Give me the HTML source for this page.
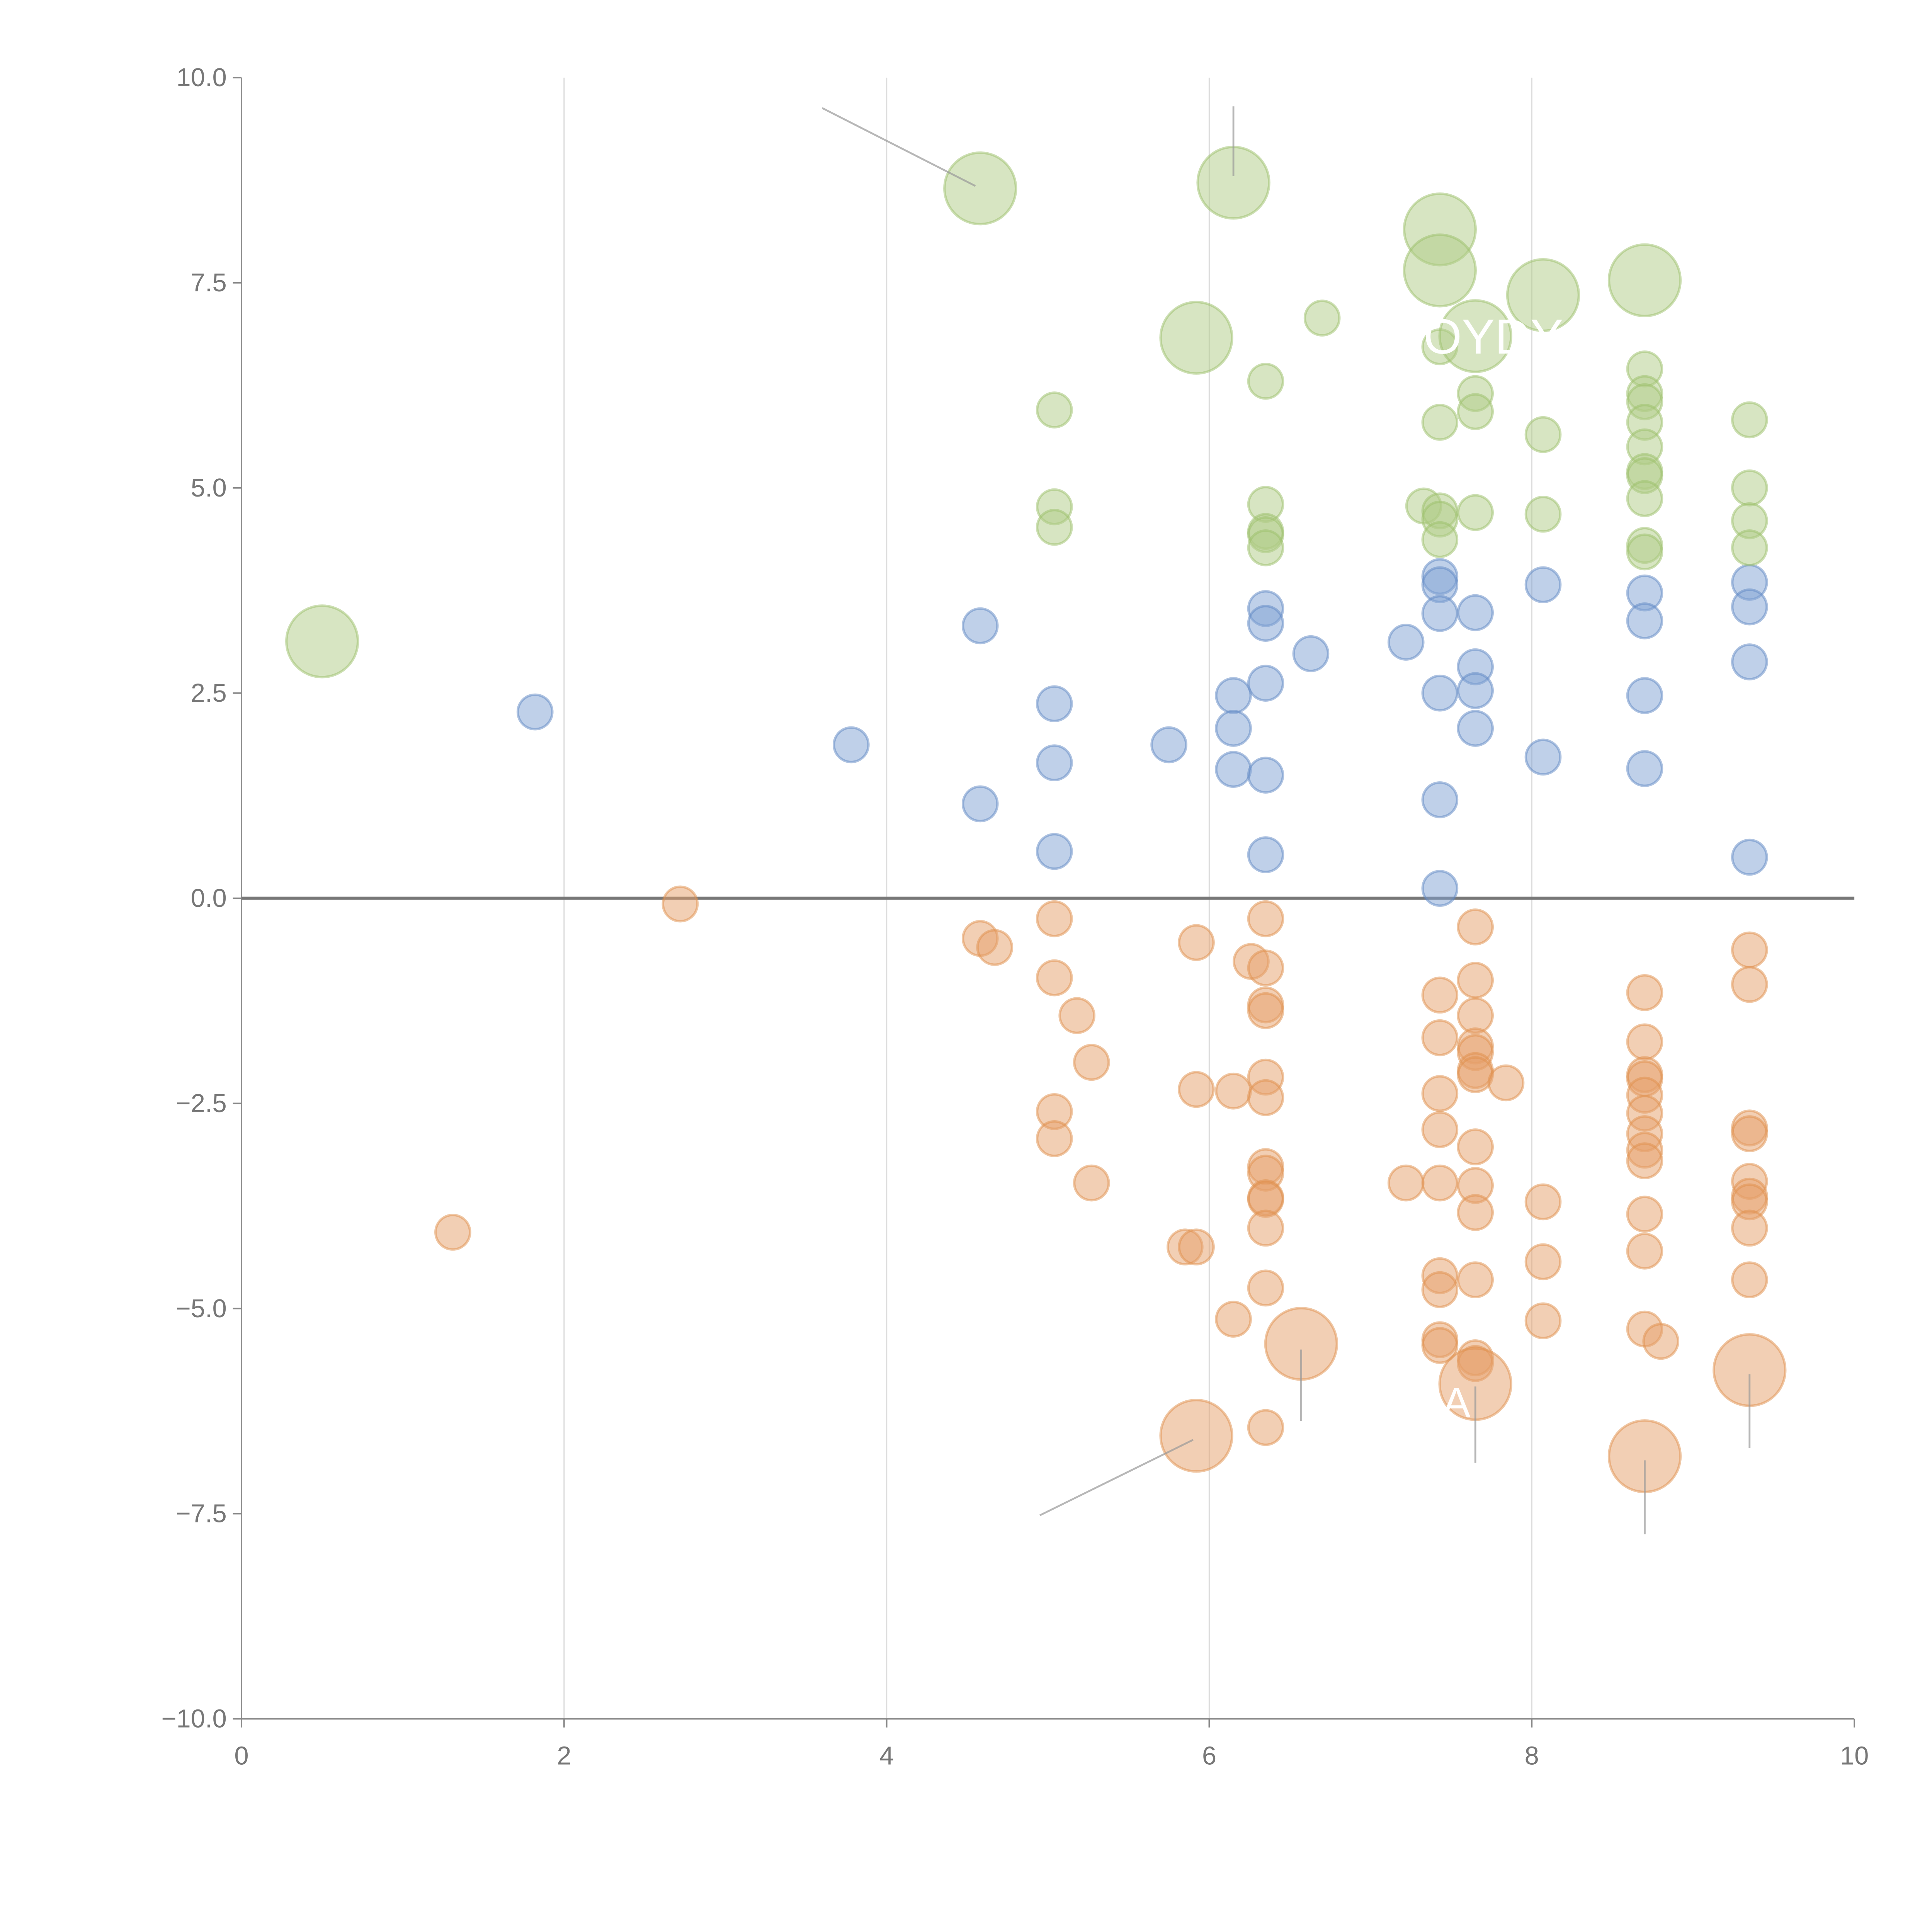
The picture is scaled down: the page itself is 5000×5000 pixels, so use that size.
<!DOCTYPE html>
<html><head><meta charset="utf-8"><style>
html,body{margin:0;padding:0;background:#fff;}
svg{display:block;}
</style></head><body>
<svg id="chart" width="5000" height="5000" viewBox="0 0 1568 1568" xmlns="http://www.w3.org/2000/svg" font-family="Liberation Sans, sans-serif"></svg>
<script>
const greenLarge=[[4.58,8.65],[6.15,8.72],[7.43,8.15],[7.43,7.65],[7.65,6.85],[8.07,7.35],[8.7,7.53],[5.92,6.83],[0.5,3.13]];
const greenSmall=[[6.7,7.07],[7.43,6.72],[6.35,6.3],[7.65,6.15],[7.65,5.93],[5.04,5.95],[7.43,5.8],[8.07,5.65],[8.7,6.45],[8.7,6.15],[8.7,6.05],[8.7,5.8],[8.7,5.5],[8.7,5.2],[8.7,5.15],[8.7,4.87],[8.7,4.3],[8.7,4.22],[9.35,5.83],[9.35,5.0],[9.35,4.6],[9.35,4.27],[5.04,4.77],[5.04,4.52],[6.35,4.8],[6.35,4.47],[6.35,4.43],[6.35,4.27],[7.33,4.78],[7.43,4.72],[7.43,4.62],[7.43,4.37],[7.65,4.7],[8.07,4.68]];
const blueSmall=[[1.82,2.27],[3.78,1.87],[4.58,3.32],[4.58,1.15],[5.04,2.37],[5.04,1.65],[5.04,0.57],[5.75,1.87],[6.15,2.47],[6.15,2.07],[6.15,1.57],[6.35,3.53],[6.35,3.35],[6.35,2.62],[6.35,1.5],[6.35,0.53],[6.63,2.98],[7.22,3.12],[7.43,3.92],[7.43,3.82],[7.43,3.47],[7.43,2.5],[7.43,1.2],[7.43,0.12],[7.65,3.48],[7.65,2.82],[7.65,2.53],[7.65,2.07],[8.07,3.82],[8.07,1.72],[8.7,3.72],[8.7,3.38],[8.7,2.47],[8.7,1.58],[9.35,3.85],[9.35,3.55],[9.35,2.88],[9.35,0.5]];
const orangeSmall=[[2.72,-0.07],[1.31,-4.07],[4.58,-0.49],[4.67,-0.6],[5.04,-0.25],[5.04,-0.97],[5.18,-1.43],[5.27,-2.0],[5.04,-2.6],[5.04,-2.93],[5.27,-3.47],[5.92,-0.54],[5.92,-2.33],[5.85,-4.25],[5.92,-4.25],[6.15,-2.35],[6.15,-5.13],[6.26,-0.77],[6.35,-0.25],[6.35,-0.85],[6.35,-1.3],[6.35,-1.37],[6.35,-2.18],[6.35,-2.43],[6.35,-3.27],[6.35,-3.35],[6.35,-3.65],[6.35,-3.67],[6.35,-4.02],[6.35,-4.75],[6.35,-6.45],[7.22,-3.47],[7.43,-1.18],[7.43,-1.7],[7.43,-2.38],[7.43,-2.82],[7.43,-3.47],[7.43,-4.6],[7.43,-4.77],[7.43,-5.38],[7.43,-5.45],[7.65,-0.35],[7.65,-1.0],[7.65,-1.43],[7.65,-1.8],[7.65,-1.88],[7.65,-2.1],[7.65,-2.15],[7.65,-3.03],[7.65,-3.5],[7.65,-3.83],[7.65,-4.65],[7.65,-5.6],[7.65,-5.67],[7.84,-2.25],[8.07,-3.7],[8.07,-4.43],[8.07,-5.15],[8.7,-1.15],[8.7,-1.75],[8.7,-2.15],[8.7,-2.2],[8.7,-2.4],[8.7,-2.62],[8.7,-2.87],[8.7,-3.07],[8.7,-3.2],[8.7,-3.85],[8.7,-4.3],[8.7,-5.25],[8.8,-5.4],[9.35,-0.63],[9.35,-1.05],[9.35,-2.8],[9.35,-2.87],[9.35,-3.45],[9.35,-3.63],[9.35,-3.7],[9.35,-4.02],[9.35,-4.65]];
const orangeLarge=[[6.57,-5.43],[5.92,-6.55],[7.65,-5.92],[8.7,-6.8],[9.35,-5.75]];
const leaders=[[3.6,9.63,4.55,8.68],[6.15,9.65,6.15,8.8],[4.95,-7.52,5.9,-6.6],[6.57,-5.5,6.57,-6.37],[7.65,-5.95,7.65,-6.88],[8.7,-6.85,8.7,-7.75],[9.35,-5.8,9.35,-6.7]];
const xTicks=[0,2,4,6,8,10];
const yTicks=[-10,-7.5,-5,-2.5,0,2.5,5,7.5,10];

const NS="http://www.w3.org/2000/svg";
const svg=document.getElementById('chart');
const X=v=>196+v*130.9;
const Y=v=>729-v*66.6;
function mk(tag,attrs,parent){const e=document.createElementNS(NS,tag);for(const k in attrs)e.setAttribute(k,attrs[k]);(parent||svg).appendChild(e);return e;}

// gridlines
xTicks.forEach(t=>{if(t>0&&t<10){const g=mk('line',{x1:X(t),x2:X(t),y1:Y(10),y2:Y(-10),stroke:'#dddddd','stroke-width':1});

}});
// axes
const ya=mk('line',{x1:X(0),x2:X(0),y1:Y(10),y2:Y(-10),stroke:'#888','stroke-width':1.2});


const xa=mk('line',{x1:X(0),x2:X(10),y1:Y(-10),y2:Y(-10),stroke:'#888','stroke-width':1.2});


xTicks.forEach(t=>{mk('line',{x1:X(t),x2:X(t),y1:Y(-10),y2:Y(-10)+7,stroke:'#888','stroke-width':1.2});
const tx=mk('text',{x:X(t),y:Y(-10)+37,'text-anchor':'middle','font-size':21,fill:'#777'});tx.textContent=t;

});
yTicks.forEach(t=>{mk('line',{x1:X(0)-7,x2:X(0),y1:Y(t),y2:Y(t),stroke:'#888','stroke-width':1.2});
const tx=mk('text',{x:X(0)-12,y:Y(t)+7,'text-anchor':'end','font-size':21,fill:'#777'});tx.textContent=(t<0?'\u2212':'')+Math.abs(t).toFixed(1);

});
// zero line
const z=mk('line',{x1:X(0),x2:X(10),y1:Y(0),y2:Y(0),stroke:'#777','stroke-width':2.5});



function dots(arr,r,fill,stroke,name){arr.forEach(p=>{const c=mk('circle',{cx:X(p[0]),cy:Y(p[1]),r:r,fill:fill,'fill-opacity':0.5,stroke:stroke,'stroke-opacity':0.5,'stroke-width':2});

});}
dots(orangeSmall,14,'#e6a06a','#e0904c','negative-bubble');
dots(orangeLarge,29,'#e6a06a','#e0904c','negative-bubble-large');
dots(blueSmall,14,'#7fa2d4','#5f87c4','positive-bubble');
dots(greenSmall,14,'#b0cc85','#9cc06a','high-bubble');
dots(greenLarge,29,'#b0cc85','#9cc06a','high-bubble-large');

leaders.forEach(l=>{const e=mk('line',{x1:X(l[0]),y1:Y(l[1]),x2:X(l[2]),y2:Y(l[3]),stroke:'#999','stroke-opacity':0.7,'stroke-width':1.5});

});

const lbl=mk('text',{x:1212,y:287,'text-anchor':'middle','font-size':40,fill:'#fff'});lbl.textContent='OYDY';


const lbl2=mk('text',{x:1182,y:1150,'text-anchor':'middle','font-size':34,fill:'#fff'});lbl2.textContent='A';


</script>
</body></html>
